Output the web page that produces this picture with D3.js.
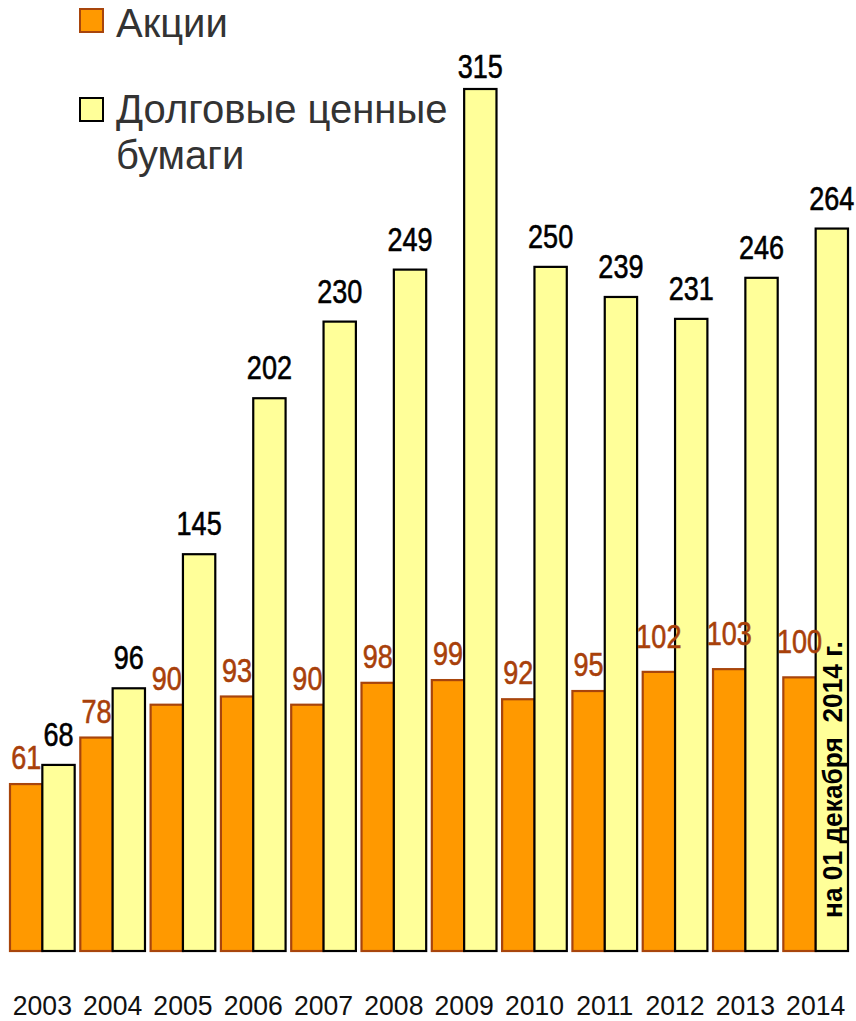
<!DOCTYPE html>
<html><head><meta charset="utf-8">
<script src="https://cdn.jsdelivr.net/npm/d3@7"></script>
<style>
html,body{margin:0;padding:0;background:#fff;}
svg{display:block;}
text{font-family:"Liberation Sans",Arial,sans-serif;}
</style>
</head><body>
<svg id="chart" width="856" height="1021"></svg>
<script>
const years = ["2003","2004","2005","2006","2007","2008","2009","2010","2011","2012","2013","2014"];
const series = ["Акции","Долговые ценные бумаги"];
const shares = [61,78,90,93,90,98,99,92,95,102,103,100];
const debt = [68,96,145,202,230,249,315,250,239,231,246,264];
const note = "на 01 декабря  2014 г.";

const fills = ["#ff9900","#ffff99"];
const strokes = ["#a8450c","#000000"];
const labelColors = ["#a8400a","#000000"];

const svg = d3.select("#chart");
const baseY = 951;
const y = d3.scaleLinear().domain([0,315]).range([baseY, 89]);
const x0 = d3.scaleBand().domain(years).range([10,848]).paddingInner(0.08).paddingOuter(0);
const x1 = d3.scaleBand().domain(series).range([0, x0.bandwidth()]);

const rows = years.map((yr,i)=>({year:yr, vals:[shares[i], debt[i]]}));

const g = svg.selectAll("g.grp").data(rows).join("g").attr("class","grp")
  .attr("transform", d=>`translate(${x0(d.year)},0)`);

g.selectAll("rect").data(d=>d.vals.map((v,k)=>({k,v}))).join("rect")
  .attr("x", d=>x1(series[d.k]))
  .attr("y", d=>y(d.v))
  .attr("width", x1.bandwidth())
  .attr("height", d=>baseY - y(d.v))
  .attr("fill", d=>fills[d.k])
  .attr("stroke", d=>strokes[d.k])
  .attr("stroke-width", 2.2);

function labelGap(d){
  if (d.k===0) return String(d.v).length>2 ? 24 : 15;
  return d.v===d3.max(debt) ? 11 : 19;
}

g.selectAll("text.val").data(d=>d.vals.map((v,k)=>({k,v}))).join("text")
  .attr("class","val")
  .attr("transform", d=>`translate(${x1(series[d.k]) + x1.bandwidth()/2},${y(d.v) - labelGap(d)}) scale(0.82,1)`)
  .attr("text-anchor","middle")
  .attr("font-size", 33)
  .attr("fill", d=>labelColors[d.k])
  .attr("stroke", d=>labelColors[d.k])
  .attr("stroke-width", 0.6)
  .text(d=>d.v);

// year labels
svg.selectAll("text.yr").data(years).join("text")
  .attr("class","yr")
  .attr("transform", d=>`translate(${x0(d)+x0.bandwidth()/2},1015) scale(0.95,1)`)
  .attr("text-anchor","middle")
  .attr("font-size", 28)
  .attr("fill","#111")
  .text(d=>d);

// note inside last debt bar
const nx = x0("2014") + x1(series[1]) + x1.bandwidth()/2 + 10;
svg.append("text")
  .attr("transform", `translate(${nx},918) rotate(-90) scale(0.94,1)`)
  .attr("font-size", 28)
  .attr("font-weight","bold")
  .attr("fill","#000")
  .attr("xml:space","preserve")
  .style("white-space","pre")
  .text(note);

// legend
const leg = svg.append("g");
const legItems = [
  {k:0, lines:["Акции"], sq:9, base:[37]},
  {k:1, lines:["Долговые ценные","бумаги"], sq:98, base:[123,169]}
];
legItems.forEach(it=>{
  leg.append("rect").attr("x",80).attr("y",it.sq).attr("width",23).attr("height",23)
    .attr("fill",fills[it.k]).attr("stroke",it.k===0?"#a8450c":"#000").attr("stroke-width",2);
  it.lines.forEach((ln,j)=>{
    leg.append("text").attr("x",116).attr("y",it.base[j])
      .attr("font-size",40).attr("fill","#333").text(ln);
  });
});
</script>
</body></html>
